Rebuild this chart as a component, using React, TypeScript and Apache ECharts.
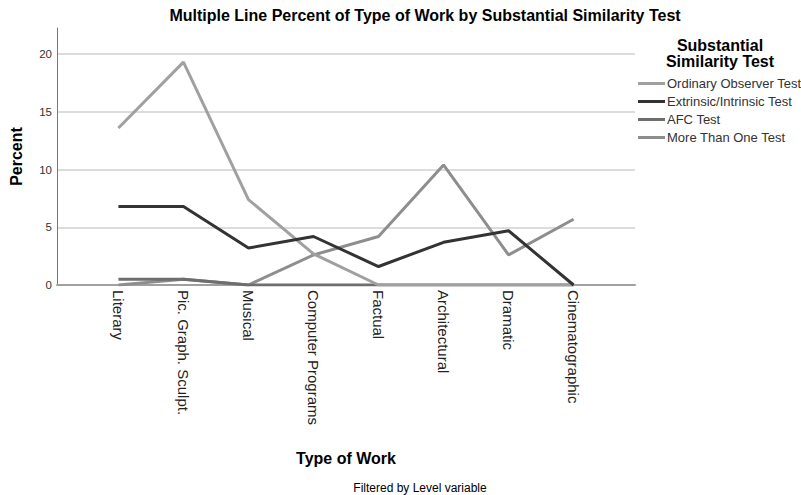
import React, { useEffect, useRef } from "react";
import * as echarts from "echarts";

const categories = [
  "Literary",
  "Pic. Graph. Sculpt.",
  "Musical",
  "Computer Programs",
  "Factual",
  "Architectural",
  "Dramatic",
  "Cinematographic",
];

const seriesNames = [
  "Ordinary Observer Test",
  "Extrinsic/Intrinsic Test",
  "AFC Test",
  "More Than One Test",
];

const ordinaryObserver = [13.6, 19.3, 7.4, 2.7, 0, 0, 0, 0];
const extrinsicIntrinsic = [6.8, 6.8, 3.2, 4.2, 1.6, 3.7, 4.7, 0];
const afcTest = [0.5, 0.5, 0, 0, 0, 0, 0, 0];
const moreThanOne = [0, 0.5, 0, 2.6, 4.2, 10.4, 2.6, 5.7];

const yTicks = [0, 5, 10, 15, 20];

const seriesColors = ["#a0a0a0", "#333333", "#6e6e6e", "#8e8e8e"];

const FONT = "'Liberation Sans', Arial, sans-serif";

export default function App() {
  const ref = useRef<HTMLDivElement>(null);

  useEffect(() => {
    if (!ref.current) return;
    const chart = echarts.init(ref.current, undefined, { renderer: "svg" });
    const allSeries = [ordinaryObserver, extrinsicIntrinsic, afcTest, moreThanOne];
    const drawOrder = [3, 2, 0, 1];
    const catIdx = categories.map((_, i) => i);

    chart.setOption({
      animation: false,
      backgroundColor: "#ffffff",
      textStyle: { fontFamily: FONT },
      title: [
        {
          text: "Multiple Line Percent of Type of Work by Substantial Similarity Test",
          left: 425,
          top: 7,
          padding: 0,
          textAlign: "center",
          textStyle: { fontFamily: FONT, fontSize: 16, fontWeight: "bold", color: "#000" },
        },
        {
          text: "Substantial\nSimilarity Test",
          left: 720,
          top: 37,
          padding: 0,
          textAlign: "center",
          textStyle: {
            fontFamily: FONT,
            fontSize: 16,
            fontWeight: "bold",
            color: "#000",
            lineHeight: 16,
          },
        },
        {
          text: "Filtered by Level variable",
          left: 420,
          top: 482,
          padding: 0,
          textAlign: "center",
          textStyle: { fontFamily: FONT, fontSize: 12, fontWeight: "normal", color: "#000" },
        },
      ],
      legend: {
        orient: "vertical",
        left: 638,
        top: 77,
        icon: "rect",
        itemWidth: 27,
        itemHeight: 3,
        itemGap: 5,
        padding: 0,
        textStyle: { fontFamily: FONT, fontSize: 13, color: "#333", padding: [0, 0, 0, -3] },
        data: seriesNames,
      },
      grid: {
        left: 55,
        top: 28,
        width: 580,
        height: 257,
        containLabel: false,
      },
      xAxis: {
        type: "value",
        min: -0.945,
        max: 7.945,
        name: "Type of Work",
        nameLocation: "middle",
        nameGap: 165,
        nameTextStyle: { fontFamily: FONT, fontSize: 16, fontWeight: "bold", color: "#000" },
        axisLine: { show: true, onZero: false, lineStyle: { color: "#a0a0a0", width: 2 } },
        axisTick: { show: false, customValues: catIdx },
        axisLabel: {
          customValues: catIdx,
          rotate: -90,
          margin: 5,
          fontFamily: FONT,
          fontSize: 15,
          color: "#222",
          formatter: (v: number) => categories[Math.round(v)] ?? "",
        },
        splitLine: { show: false },
      },
      yAxis: {
        type: "value",
        min: 0,
        max: 22.26,
        interval: 5,
        name: "Percent",
        nameLocation: "middle",
        nameGap: 33,
        nameRotate: 90,
        nameTextStyle: { fontFamily: FONT, fontSize: 16, fontWeight: "bold", color: "#000" },
        axisLine: { show: true, onZero: false, lineStyle: { color: "#777", width: 1 } },
        axisTick: { show: false },
        axisLabel: {
          showMaxLabel: false,
          margin: 5,
          fontFamily: FONT,
          fontSize: 11.5,
          color: "#333",
          formatter: (v: number) => (yTicks.includes(v) ? String(v) : ""),
        },
        splitLine: {
          show: true,
          showMaxLine: false,
          showMinLine: false,
          lineStyle: { color: "#d0d0d0", width: 1.5 },
        },
      },
      series: drawOrder.map((i) => ({
        name: seriesNames[i],
        type: "line",
        data: allSeries[i].map((v, k) => [k, v]),
        symbol: "none",
        lineStyle: { color: seriesColors[i], width: 3 },
        itemStyle: { color: seriesColors[i] },
        z: 2 + drawOrder.indexOf(i),
      })),
    });

    return () => chart.dispose();
  }, []);

  return (
    <div
      ref={ref}
      style={{ position: "fixed", left: 0, top: 0, width: 801, height: 495 }}
    />
  );
}
